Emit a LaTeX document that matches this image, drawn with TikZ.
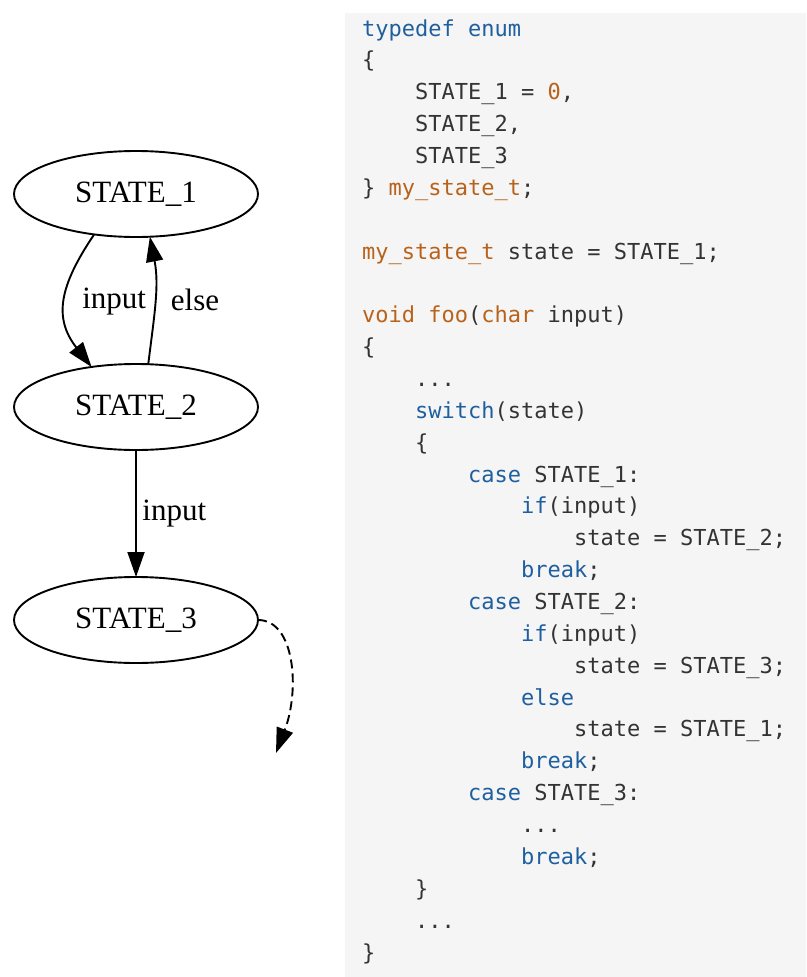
\documentclass[tikz,border=0pt]{standalone}
\usepackage{fontspec}
\setmainfont{Liberation Serif}
\newfontfamily\codefont{DejaVu Sans Mono}
\usetikzlibrary{positioning,shapes.geometric,arrows.meta}

\definecolor{codebg}{HTML}{F5F5F5}
\definecolor{codeblue}{HTML}{1F5F9F}
\definecolor{codeorange}{HTML}{B8621B}
\definecolor{codetext}{HTML}{333333}

\newcommand{\kw}[1]{\textcolor{codeblue}{#1}}
\newcommand{\ty}[1]{\textcolor{codeorange}{#1}}
\newcommand{\tb}{\hphantom{0000}}

\begin{document}
\begin{tikzpicture}[
    x=1pt, y=1pt,
    node distance=127pt,
    state/.style={draw, ellipse, line width=1.9pt, minimum width=244pt, minimum height=86pt,
        inner sep=0pt, outer sep=0pt, font=\fontsize{31}{36}\selectfont},
    trans/.style={line width=1.9pt, -{Triangle[length=25pt, width=17pt]}},
    lbl/.style={inner sep=2pt, font=\fontsize{31}{36}\selectfont}
]

% Frame and code panel
\useasboundingbox (0,0) rectangle (806,-977);
\fill[codebg] (345,-13) rectangle (806,-977);

% States
\node[state] (s1) at (136,-194) {STATE\_1};
\node[state] (s2) [below=of s1] {STATE\_2};
\node[state] (s3) [below=of s2] {STATE\_3};
\coordinate (s3out) at (276,-753);

% Transitions
\draw[trans] (s1.224) to[out=236, in=128, looseness=1.2]
    node[lbl, right, xshift=14pt] {input} (s2.138);
\draw[trans] (s2.74) to[out=83, in=-79]
    node[lbl, right, xshift=13pt] {else} (s1.288);
\draw[trans] (s2) -- node[lbl, right, xshift=3.5pt] {input} (s3);
\draw[trans, dash pattern=on 9pt off 5pt] (s3.east) .. controls +(37,0) and +(24,63) .. (s3out);

% Code (anchored at the baseline of its last line)
\node[anchor=base west, inner sep=0pt, align=left, text=codetext,
    font=\codefont\fontsize{22}{31.86}\selectfont] (code) at (362,-960) {%
\kw{typedef enum}\\
\{\\
\tb STATE\_1 = \ty{0},\\
\tb STATE\_2,\\
\tb STATE\_3\\
\} \ty{my\_state\_t};\\
\mbox{}\\
\ty{my\_state\_t} state = STATE\_1;\\
\mbox{}\\
\ty{void foo}(\ty{char} input)\\
\{\\
\tb ...\\
\tb\kw{switch}(state)\\
\tb\{\\
\tb\tb\kw{case} STATE\_1:\\
\tb\tb\tb\kw{if}(input)\\
\tb\tb\tb\tb state = STATE\_2;\\
\tb\tb\tb\kw{break};\\
\tb\tb\kw{case} STATE\_2:\\
\tb\tb\tb\kw{if}(input)\\
\tb\tb\tb\tb state = STATE\_3;\\
\tb\tb\tb\kw{else}\\
\tb\tb\tb\tb state = STATE\_1;\\
\tb\tb\tb\kw{break};\\
\tb\tb\kw{case} STATE\_3:\\
\tb\tb\tb ...\\
\tb\tb\tb\kw{break};\\
\tb\}\\
\tb ...\\
\}};

\end{tikzpicture}
\end{document}
